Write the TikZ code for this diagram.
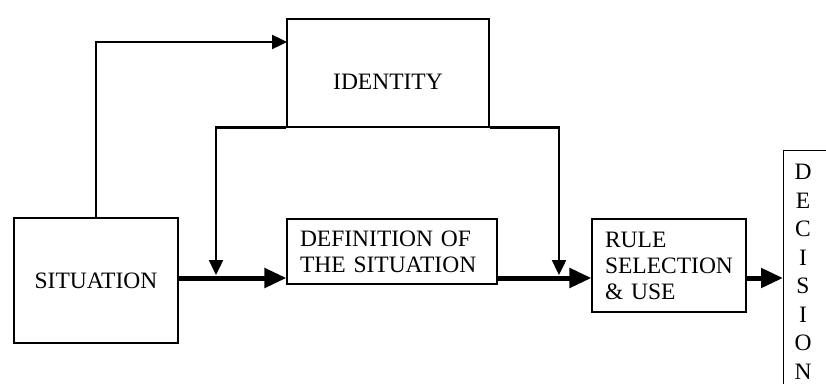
\documentclass[tikz,border=0pt]{standalone}
\usepackage{fontspec}
\setmainfont{Liberation Serif}
\usetikzlibrary{arrows.meta,positioning}

\begin{document}
\begin{tikzpicture}[
  x=1pt, y=-1pt,
  box/.style={draw, line width=1.1pt, inner sep=0pt, align=center, font=\fontsize{23.5}{26}\selectfont},
  textbox/.style={box, align=left, inner xsep=13pt},
  flow/.style={-{Triangle[length=22pt, width=19pt]}, line width=5pt},
  link/.style={-{Triangle[length=15pt, width=14pt]}, line width=2.4pt},
]
  \clip (0,0) rectangle (826,383);
  \node[box, minimum width=202pt, minimum height=108pt, text height=33pt] (ident) at (388,73) {IDENTITY};
  \node[box, minimum width=164pt, minimum height=125pt] (sit) at (96,280.5) {SITUATION};
  \node[textbox, text width=184pt, minimum width=210pt, minimum height=65pt] (def) at (392,251.5) {DEFINITION OF\\THE SITUATION};
  \node[textbox, text width=128pt, minimum width=154pt, minimum height=93pt] (rule) at (669,265.5) {RULE\\SELECTION\\\& USE};
  \node[box, minimum width=100pt, minimum height=260pt, anchor=north west] (dec) at (783,150) {};
  \node[font=\fontsize{23.5}{28.5}\selectfont, align=center, inner sep=0pt] (declbl) at (803,272) {D\\E\\C\\I\\S\\I\\O\\N};

  \coordinate (mainy) at (0,278);
  \coordinate (idIn) at (287,42);
  \coordinate (fbL) at (216,275);
  \coordinate (fbR) at (559,275);

  % feedback from identity
  \draw[link] (sit.north) |- (idIn);
  \draw[link] (ident.south west) -| (fbL);
  \draw[link] (ident.south east) -| (fbR);

  % main flow
  \draw[flow] (sit.east |- mainy) -- (def.west |- mainy);
  \draw[flow] (def.east |- mainy) -- (rule.west |- mainy);
  \draw[flow] (rule.east |- mainy) -- (dec.west |- mainy);
\end{tikzpicture}
\end{document}
